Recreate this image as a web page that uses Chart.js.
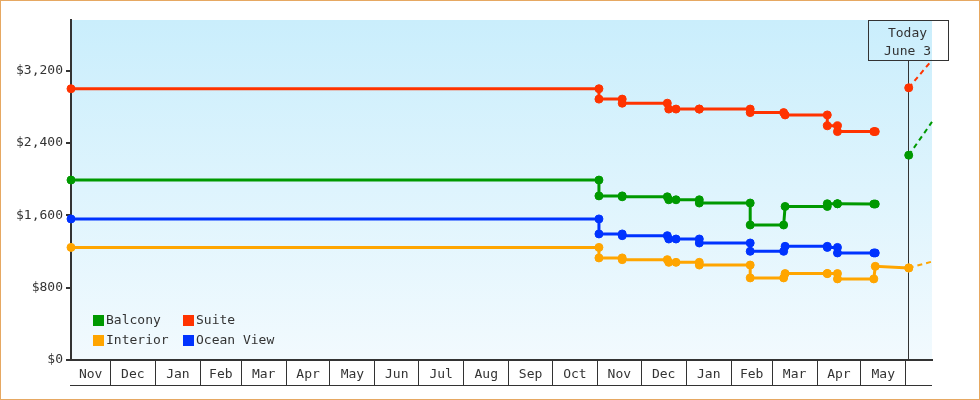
<!DOCTYPE html>
<html>
<head>
<meta charset="utf-8">
<script src="https://cdn.jsdelivr.net/npm/chart.js@4/dist/chart.umd.min.js"></script>
<style>
  html, body { margin: 0; padding: 0; background: #fff; }
</style>
</head>
<body>
<canvas id="fares" width="980" height="400"></canvas>
<script>
// x values are day numbers, day 0 = 1st of the first November
var monthNames  = ['Nov','Dec','Jan','Feb','Mar','Apr','May','Jun','Jul','Aug','Sep','Oct','Nov','Dec','Jan','Feb','Mar','Apr','May'];
var monthStarts = [0, 30, 61, 92, 120, 151, 181, 212, 242, 273, 304, 334, 365, 395, 426, 457, 485, 516, 546, 577];
var firstDay = 3, lastDay = 595;

// price history, two points on a day = price change that day
var days     = [3,    366,  366,  382,  382,  413,  414,  419,  435,  435,  470,  470,  493,  494,  523,  523,  530,  530,  555,  556];
var suite    = [3000, 3000, 2885, 2885, 2840, 2840, 2775, 2775, 2775, 2775, 2775, 2736, 2736, 2710, 2710, 2590, 2590, 2526, 2526, 2526];
var balcony  = [1990, 1990, 1815, 1815, 1805, 1805, 1772, 1772, 1772, 1736, 1736, 1493, 1493, 1698, 1698, 1728, 1728, 1728, 1725, 1725];
var ocean    = [1560, 1560, 1394, 1394, 1375, 1375, 1338, 1338, 1338, 1294, 1294, 1202, 1202, 1257, 1257, 1245, 1245, 1184, 1184, 1184];
var interior = [1245, 1245, 1129, 1129, 1110, 1110, 1080, 1080, 1080, 1050, 1050, 908,  908,  956,  956,  956,  956,  897,  897,  1036];

// today + projection to the right edge
var todayDay = 579;
var todayText = ['Today', 'June 3'];
var aheadDays     = [579, 595];
var suiteAhead    = [3010, 3317];
var balconyAhead  = [2265, 2633];
var interiorAhead = [1018, 1088];

var yMax = 3760;
var yTicks = [0, 800, 1600, 2400, 3200];

var colors = { 'Balcony': '#009900', 'Suite': '#ff3300', 'Interior': '#ffa500', 'Ocean View': '#0033ff' };
var legendOrder = ['Balcony', 'Suite', 'Interior', 'Ocean View'];

function pts(xs, ys) {
    return xs.map(function (d, i) { return { x: d, y: ys[i] }; });
}

// bottom strip: month edges (lines) + month middles (labels)
var xTicks = [];
monthStarts.forEach(function (d, i) {
    if (d > firstDay && d < lastDay) xTicks.push({ value: d, label: '', edge: true });
    if (i < monthNames.length) {
        var a = Math.max(d, firstDay), b = Math.min(monthStarts[i + 1], lastDay);
        xTicks.push({ value: (a + b) / 2, label: monthNames[i], edge: false });
    }
});
xTicks.sort(function (p, q) { return p.value - q.value; });

function solid(label, data) {
    return {
        label: label, data: data,
        borderColor: colors[label], backgroundColor: colors[label],
        pointBackgroundColor: colors[label], pointBorderColor: colors[label],
        borderWidth: 3, pointRadius: 4, pointBorderWidth: 1, pointHoverRadius: 4,
        tension: 0, clip: false
    };
}
function ahead(label, data) {
    return {
        label: label + ' ahead', data: data,
        borderColor: colors[label], backgroundColor: colors[label],
        pointBackgroundColor: colors[label], pointBorderColor: colors[label],
        borderWidth: 2, borderDash: [5, 4], pointRadius: [4, 0], pointBorderWidth: 1,
        tension: 0, clip: false
    };
}

var plotBg = {
    id: 'plotBg',
    beforeDraw: function (chart) {
        var ctx = chart.ctx, a = chart.chartArea;
        ctx.save();
        ctx.fillStyle = '#fff';
        ctx.fillRect(0, 0, chart.width, chart.height);
        var g = ctx.createLinearGradient(0, a.top, 0, a.bottom);
        g.addColorStop(0, '#caeefc');
        g.addColorStop(1, '#f2fafe');
        ctx.fillStyle = g;
        ctx.fillRect(a.left, a.top, a.right - a.left, a.bottom - a.top);
        ctx.restore();
    },
    afterDraw: function (chart) {
        var ctx = chart.ctx, a = chart.chartArea, xs = chart.scales.x;
        ctx.save();
        // line under the month strip
        ctx.strokeStyle = '#333';
        ctx.lineWidth = 1;
        ctx.beginPath();
        ctx.moveTo(a.left - 1, Math.round(xs.bottom) + 0.5);
        ctx.lineTo(a.right, Math.round(xs.bottom) + 0.5);
        ctx.stroke();
        // outer frame
        ctx.strokeStyle = '#e6a862';
        ctx.strokeRect(0.5, 0.5, chart.width - 1, chart.height - 1);
        ctx.restore();
    }
};

var todayMarker = {
    id: 'todayMarker',
    beforeDatasetsDraw: function (chart) {
        var ctx = chart.ctx, a = chart.chartArea;
        var x = Math.floor(chart.scales.x.getPixelForValue(todayDay)) + 0.5;
        ctx.save();
        ctx.strokeStyle = '#333';
        ctx.lineWidth = 1;
        ctx.beginPath();
        ctx.moveTo(x, a.top + 40);
        ctx.lineTo(x, a.bottom);
        ctx.stroke();
        ctx.restore();
    },
    afterDraw: function (chart) {
        var ctx = chart.ctx, a = chart.chartArea;
        var x = Math.floor(chart.scales.x.getPixelForValue(todayDay)) + 0.5;
        ctx.save();
        ctx.strokeStyle = '#333';
        ctx.lineWidth = 1;
        ctx.strokeRect(x - 40, a.top + 0.5, 80, 40);
        ctx.fillStyle = '#333';
        ctx.font = '13px "DejaVu Sans Mono"';
        ctx.textAlign = 'center';
        ctx.textBaseline = 'middle';
        ctx.fillText(todayText[0], x - 1, a.top + 13.5);
        ctx.fillText(todayText[1], x - 1, a.top + 31.5);
        ctx.restore();
    }
};

var boxLegend = {
    id: 'boxLegend',
    afterDatasetsDraw: function (chart) {
        var ctx = chart.ctx, a = chart.chartArea;
        ctx.save();
        ctx.font = '13px "DejaVu Sans Mono"';
        ctx.textAlign = 'left';
        ctx.textBaseline = 'middle';
        legendOrder.forEach(function (name, i) {
            var x = a.left + 22 + (i % 2) * 90;
            var y = a.bottom - 45 + Math.floor(i / 2) * 20;
            ctx.fillStyle = colors[name];
            ctx.fillRect(x, y, 11, 11);
            ctx.fillStyle = '#333';
            ctx.fillText(name, x + 13, y + 6);
        });
        ctx.restore();
    }
};

Chart.defaults.font.family = '"DejaVu Sans Mono", monospace';
Chart.defaults.font.size = 13;
Chart.defaults.color = '#333';

new Chart(document.getElementById('fares'), {
    type: 'line',
    data: {
        datasets: [
            solid('Suite', pts(days, suite)),
            solid('Balcony', pts(days, balcony)),
            solid('Ocean View', pts(days, ocean)),
            solid('Interior', pts(days.concat([aheadDays[0]]), interior.concat([interiorAhead[0]]))),
            ahead('Suite', pts(aheadDays, suiteAhead)),
            ahead('Balcony', pts(aheadDays, balconyAhead)),
            ahead('Interior', pts(aheadDays, interiorAhead))
        ]
    },
    options: {
        responsive: false,
        animation: false,
        layout: { padding: { left: 0, right: 48, top: 20, bottom: 15 } },
        plugins: { legend: { display: false }, tooltip: { enabled: false } },
        scales: {
            x: {
                type: 'linear',
                min: firstDay,
                max: lastDay,
                afterBuildTicks: function (scale) {
                    scale.ticks = xTicks.map(function (t) { return { value: t.value }; });
                },
                afterFit: function (scale) { scale.height = 25; },
                ticks: {
                    autoSkip: false,
                    maxRotation: 0,
                    padding: -18,
                    callback: function (v, i) { return xTicks[i] ? xTicks[i].label : ''; }
                },
                grid: {
                    drawOnChartArea: false,
                    tickLength: 25,
                    lineWidth: 1,
                    color: function (c) { return xTicks[c.index] && xTicks[c.index].edge ? '#333' : 'rgba(0,0,0,0)'; }
                },
                border: { display: true, color: '#333', width: 2 }
            },
            y: {
                type: 'linear',
                min: 0,
                max: yMax,
                afterBuildTicks: function (scale) {
                    scale.ticks = yTicks.map(function (v) { return { value: v }; });
                },
                afterFit: function (scale) { scale.width = 71; },
                ticks: {
                    autoSkip: false,
                    padding: 3,
                    callback: function (v) { return '$' + Number(v).toLocaleString('en-US'); }
                },
                grid: { drawOnChartArea: false, tickLength: 5, lineWidth: 2, color: '#333' },
                border: { display: true, color: '#333', width: 2 }
            }
        }
    },
    plugins: [plotBg, todayMarker, boxLegend]
});
</script>
</body>
</html>
